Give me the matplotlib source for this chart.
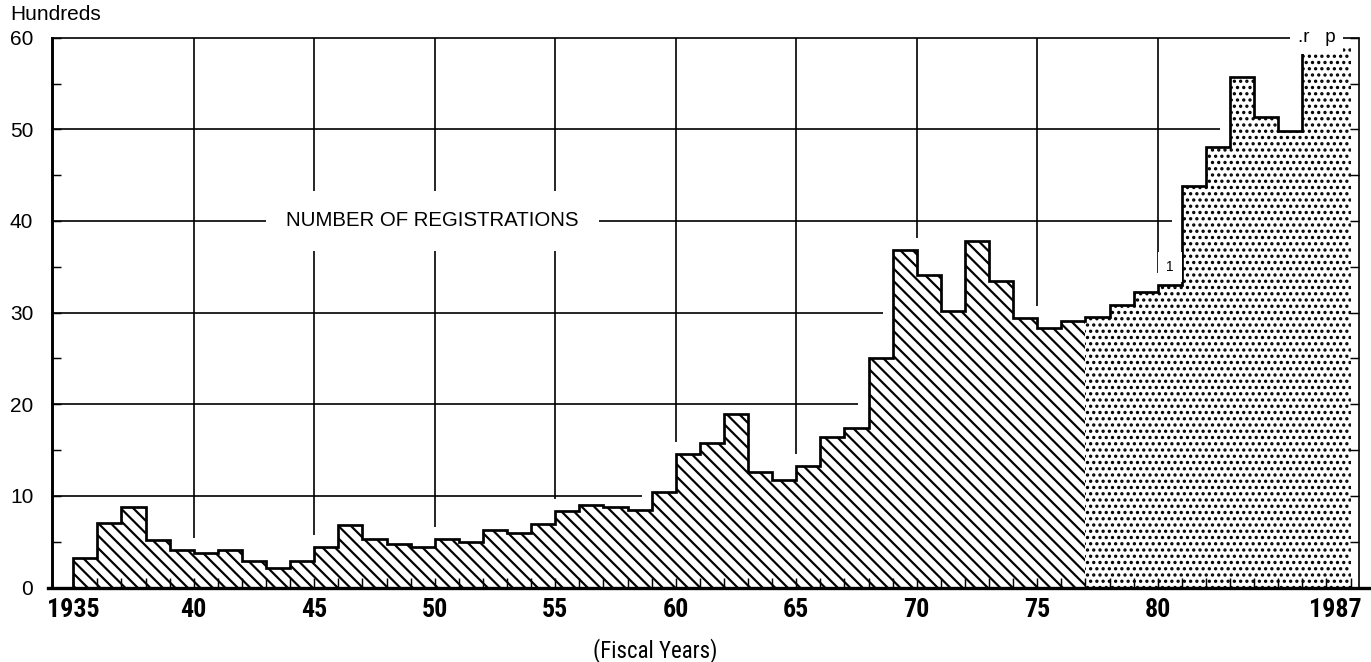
import numpy as np
import matplotlib
matplotlib.use("Agg")
import matplotlib.pyplot as plt
from matplotlib import font_manager as fm

# ---------------- data (hundreds of registrations, fiscal years) ----------------
years = list(range(1935, 1988))
registrations = [
    3.2, 7.0, 8.8, 5.2, 4.1, 3.8, 4.1, 2.9, 2.1, 2.9,        # 1935-44
    4.4, 6.8, 5.3, 4.8, 4.4, 5.3, 5.0, 6.3, 5.9, 6.9,        # 1945-54
    8.4, 9.0, 8.8, 8.5, 10.4, 14.6, 15.8, 18.9, 12.6, 11.7,  # 1955-64
    13.3, 16.4, 17.4, 25.1, 36.8, 34.1, 30.2, 37.8, 33.5, 29.4,  # 1965-74
    28.3, 29.1, 29.5, 30.8, 32.2, 33.0, 43.8, 48.1, 55.7, 51.3,  # 1975-84
    49.8, 58.9, 58.9,                                        # 1985-87
]
first_dotted_year = 1977
first_preliminary_year = 1986
grid_years = [1940, 1945, 1950, 1955, 1960, 1965, 1970, 1975, 1980]
grid_values = [10, 20, 30, 40, 50]
tick_years = [1935, 1940, 1945, 1950, 1955, 1960, 1965, 1970, 1975, 1980, 1987]
tick_labels = ["1935", "40", "45", "50", "55", "60", "65", "70", "75", "80", "1987"]
y_ticks = [0, 10, 20, 30, 40, 50, 60]
y_minor = [5, 15, 25, 35, 45, 55]
series_label = "NUMBER OF REGISTRATIONS"
footnote_year, footnote_value = 1980.5, 35.0

# ---------------- fonts ----------------
names = {f.name for f in fm.fontManager.ttflist}
def pick(*cands):
    for c in cands:
        if c in names:
            return c
    return "DejaVu Sans"
regular = pick("Liberation Sans", "Arimo", "DejaVu Sans")
narrow = pick("Liberation Sans Narrow", "Roboto Condensed", "Arial Narrow", "Liberation Sans")

DPI = 150
W, H = 1371, 662
plt.rcParams["font.family"] = [regular, "DejaVu Sans"]

fig = plt.figure(figsize=(W / DPI, H / DPI), dpi=DPI)
ax_l, ax_r, ax_t, ax_b = 52, 1358.5, 37.7, 587.5
ax = fig.add_axes([ax_l / W, (H - ax_b) / H, (ax_r - ax_l) / W, (ax_b - ax_t) / H])

xmin, xmax = 1934.12, 1988.33
ymax = 60
ax.set_xlim(xmin, xmax)
ax.set_ylim(0, ymax)

vals = np.asarray(registrations, dtype=float)
edges = np.arange(years[0], years[-1] + 2)
k = years.index(first_dotted_year)

# gridlines: drawn up to a small clearance from the bars, as in the original
gap_x, gap_y = 0.42, 1.3
for gv in grid_values:
    idx = next(i for i, v in enumerate(vals) if v > gv)
    ax.hlines(gv, xmin, edges[idx] - gap_x, color="black", lw=0.8, zorder=1)
for gy in grid_years:
    i = years.index(gy)
    ax.vlines(gy, max(vals[i - 1], vals[i]) + gap_y, ymax, color="black", lw=0.8, zorder=1)

# step outline path
sx = np.repeat(edges, 2)
sy = np.concatenate([[0], np.repeat(vals, 2), [0]])

# hatched part
plt.rcParams["hatch.linewidth"] = 1.05
p1 = ax.stairs(vals[:k], edges[:k + 1], fill=True, baseline=0,
               facecolor="white", edgecolor="black", linewidth=0,
               hatch="\\\\\\\\", zorder=2)
# dotted part
plt.rcParams["hatch.linewidth"] = 1.0
p2 = ax.stairs(vals[k:], edges[k:], fill=True, baseline=0,
               facecolor="white", edgecolor="black", linewidth=0,
               hatch="....", zorder=2)
for p, lw in ((p1, 1.05), (p2, 1.0)):
    if hasattr(p, "set_hatch_linewidth"):
        p.set_hatch_linewidth(lw)
plt.rcParams["hatch.linewidth"] = 1.05

# solid black outline up to the preliminary years
kp = years.index(first_preliminary_year)
n_solid = 2 * kp + 2
ax.plot(sx[:n_solid], sy[:n_solid], color="black", lw=1.3, zorder=2.2,
        solid_joinstyle="miter", solid_capstyle="butt")

# spines
for side in ("left", "right", "top", "bottom"):
    ax.spines[side].set_color("black")
ax.spines["left"].set_linewidth(1.4)
ax.spines["bottom"].set_linewidth(1.6)
ax.spines["top"].set_linewidth(0.8)
ax.spines["right"].set_linewidth(0.8)
ax.spines["bottom"].set_bounds(1933.95, 1988.9)
ax.set_axisbelow(False)

# x ticks
label_pos = [y + (0.35 if y == years[-1] else 0.0) for y in tick_years]
ax.set_xticks(label_pos)
ax.set_xticklabels(tick_labels)
ax.set_xticks(edges, minor=True)
ax.xaxis.remove_overlapping_locs = False
ax.tick_params(axis="x", which="major", length=0, pad=5, labelsize=12.5)
ax.tick_params(axis="x", which="minor", direction="in", length=4.8, width=0.7,
               bottom=True, top=False)
for lbl in ax.get_xticklabels():
    lbl.set_fontfamily(narrow)
    lbl.set_fontweight("bold")

# y ticks
ax.set_yticks(y_ticks)
ax.set_yticks(y_minor, minor=True)
ax.tick_params(axis="y", which="both", direction="in", left=True, right=True,
               length=4.5, width=0.7)
ax.tick_params(axis="y", which="major", pad=9, labelsize=10)

# axis labels / texts
ax.set_xlabel("(Fiscal Years)", fontsize=11, fontfamily=narrow, va="top")
ax.xaxis.set_label_coords((655 - ax_l) / (ax_r - ax_l), (ax_b - 638) / (ax_b - ax_t))

fig.text(10 / W, 1 - 20 / H, "Hundreds", fontsize=10, ha="left", va="baseline")

ax.text(1949.9, 40, series_label, fontsize=9.8, ha="center", va="center",
        zorder=3, bbox=dict(facecolor="white", edgecolor="none",
                            boxstyle="square,pad=1.0"))

ax.text(footnote_year, footnote_value, "1", fontsize=6.5, ha="center", va="center", zorder=3,
        bbox=dict(facecolor="white", edgecolor="none", boxstyle="square,pad=0.6"))

ax.text(1986.58, 59.5, ".r   p", fontsize=9, ha="center", va="baseline", zorder=3,
        bbox=dict(facecolor="white", edgecolor="none", boxstyle="square,pad=0.4"))

fig.savefig("out.png", dpi=DPI)
